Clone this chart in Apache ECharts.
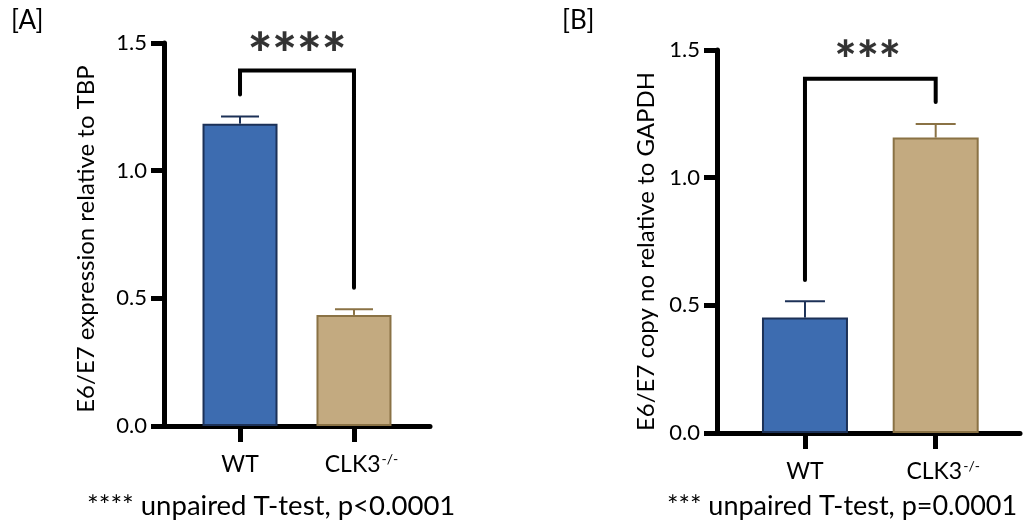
<!DOCTYPE html>
<html>
<head>
<meta charset="utf-8">
<script src="https://cdn.jsdelivr.net/npm/echarts@6/dist/echarts.min.js"></script>
<style>
  html, body { margin: 0; padding: 0; background: #fff; }
  #chart { width: 1027px; height: 523px; }
</style>
</head>
<body>
<div id="chart"></div>
<script>
// Groups shown in both panels
const categories = ['WT', 'CLK3'];
// Panel A: E6/E7 expression relative to TBP (mean, SEM)
const exprMean = [1.184, 0.435];
const exprErr = [0.028, 0.022];
// Panel B: E6/E7 copy number relative to GAPDH (mean, SEM)
const copyMean = [0.452, 1.157];
const copyErr = [0.064, 0.053];
// Y ticks shared by both panels
const yTicks = [0, 0.5, 1.0, 1.5];
// Significance brackets: [left leg bottom, top, right leg bottom]
const bracketA = [1.298, 1.392, 0.541];
const bracketB = [0.599, 1.387, 1.296];
const starsA = '****';
const starsB = '***';
const noteA = '**** unpaired T-test, p<0.0001';
const noteB = '*** unpaired T-test, p=0.0001';

const FONT = 'Lato';
const fills = ['#3d6cb0', '#c3aa80'];
const edges = ['#1c3157', '#8a7245'];
const AXIS_W = 5;

function yAxis(gridIndex, name, gap, shift) {
  return {
    gridIndex, type: 'value',
    min: yTicks[0], max: yTicks[yTicks.length - 1], interval: yTicks[1] - yTicks[0],
    name, nameLocation: 'middle', nameRotate: 90, nameGap: gap,
    nameTextStyle: { fontFamily: FONT, fontSize: 24, color: '#000', padding: [0, shift, 0, 0] },
    axisLine: { show: true, onZero: false, lineStyle: { color: '#000', width: AXIS_W } },
    axisTick: { show: true, length: 13, lineStyle: { color: '#000', width: AXIS_W } },
    axisLabel: { fontFamily: FONT, fontSize: 22, color: '#000', margin: 17,
                 formatter: v => v.toFixed(1) },
    splitLine: { show: false }
  };
}

function xAxis(gridIndex, min, max) {
  return {
    gridIndex, type: 'value', min, max,
    axisLine: { show: true, onZero: false, lineStyle: { color: '#000', width: AXIS_W } },
    axisTick: { show: true, customValues: [0, 1], length: 16, lineStyle: { color: '#000', width: AXIS_W } },
    axisLabel: {
      show: true, customValues: [0, 1], margin: 26,
      fontFamily: FONT, fontSize: 23, color: '#000',
      formatter: v => v === 0 ? '{b|' + categories[0] + '}' : '{pad|}{b|' + categories[1] + '}{sup|-/-}',
      rich: {
        b: { fontFamily: FONT, fontSize: 23, color: '#000', lineHeight: 26 },
        sup: { fontFamily: FONT, fontSize: 14, color: '#000', verticalAlign: 'top', lineHeight: 26, padding: [0, 0, 16, 1] },
        pad: { width: 15 }
      }
    },
    splitLine: { show: false }
  };
}

function bars(idx, means, width) {
  return {
    type: 'bar', xAxisIndex: idx, yAxisIndex: idx, barWidth: width,
    data: means.map((m, i) => ({
      value: [i, m],
      itemStyle: { color: fills[i], borderColor: edges[i], borderWidth: 2 }
    }))
  };
}

function errorBars(idx, means, errs, capHalf) {
  return {
    type: 'custom', xAxisIndex: idx, yAxisIndex: idx,
    data: means.map((m, i) => [i, m, m + errs[i]]),
    renderItem: (params, api) => {
      const i = api.value(0);
      const base = api.coord([i, api.value(1)]);
      const top = api.coord([i, api.value(2)]);
      const style = { stroke: edges[i], lineWidth: 2 };
      return {
        type: 'group',
        children: [
          { type: 'line', shape: { x1: base[0], y1: base[1], x2: top[0], y2: top[1] }, style },
          { type: 'line', shape: { x1: top[0] - capHalf, y1: top[1], x2: top[0] + capHalf, y2: top[1] }, style }
        ]
      };
    }
  };
}

function bracket(idx, b) {
  return {
    type: 'line', xAxisIndex: idx, yAxisIndex: idx,
    symbol: 'none', silent: true,
    lineStyle: { color: '#000', width: 4, cap: 'round', join: 'miter' },
    data: [[0, b[0]], [0, b[1]], [1, b[1]], [1, b[2]]]
  };
}

function stars(idx, text, size, x) {
  return {
    type: 'scatter', xAxisIndex: idx, yAxisIndex: idx,
    symbolSize: 0, silent: true,
    data: [[x, 1.5]],
    label: {
      show: true, position: 'inside', formatter: text,
      fontFamily: FONT, fontWeight: 900, fontSize: size, color: '#000',
      offset: [0, Math.round(size * 0.22)]
    }
  };
}

const chart = echarts.init(document.getElementById('chart'));
chart.setOption({
  animation: false,
  backgroundColor: '#fff',
  grid: [
    { left: 164, top: 43, width: 266, height: 383 },
    { left: 717, top: 50, width: 303, height: 383 }
  ],
  xAxis: [xAxis(0, -0.667, 1.667), xAxis(1, -0.673, 1.645)],
  yAxis: [
    yAxis(0, 'E6/E7 expression relative to TBP', 66, 9),
    yAxis(1, 'E6/E7 copy no relative to GAPDH', 59, 20)
  ],
  series: [
    bars(0, exprMean, 75), errorBars(0, exprMean, exprErr, 19), bracket(0, bracketA), stars(0, starsA, 58, 0.5),
    bars(1, copyMean, 86), errorBars(1, copyMean, copyErr, 20), bracket(1, bracketB), stars(1, starsB, 52, 0.48)
  ],
  graphic: [
    { type: 'text', left: 11, top: 8, style: { text: '[A]', fontFamily: FONT, fontSize: 26, fill: '#000' } },
    { type: 'text', left: 562, top: 8, style: { text: '[B]', fontFamily: FONT, fontSize: 26, fill: '#000' } },
    { type: 'text', left: 87, top: 492, style: { text: noteA, fontFamily: FONT, fontSize: 27.5, fill: '#000' } },
    { type: 'text', left: 667, top: 493, style: { text: noteB, fontFamily: FONT, fontSize: 27, fill: '#000' } }
  ]
});
</script>
</body>
</html>
